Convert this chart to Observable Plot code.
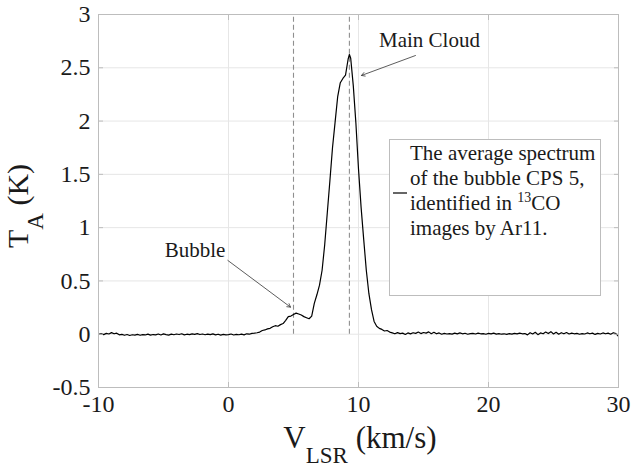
<!DOCTYPE html>
<html><head><meta charset="utf-8">
<script src="https://cdn.jsdelivr.net/npm/d3@7"></script>
<script src="https://cdn.jsdelivr.net/npm/@observablehq/plot@0.6"></script>
<style>body{margin:0;background:#fff} svg{display:block}</style>
</head><body><div id="chart"></div>
<script>
const velocity = [
-10.0,-9.8,-9.6,-9.4,-9.2,-9.0,-8.8,-8.6,-8.4,-8.2,-8.0,-7.8,-7.6,-7.4,-7.2,-7.0,-6.8,-6.6,-6.4,-6.2,
-6.0,-5.8,-5.6,-5.4,-5.2,-5.0,-4.8,-4.6,-4.4,-4.2,-4.0,-3.8,-3.6,-3.4,-3.2,-3.0,-2.8,-2.6,-2.4,-2.2,
-2.0,-1.8,-1.6,-1.4,-1.2,-1.0,-0.8,-0.6,-0.4,-0.2,
0.0,0.2,0.4,0.6,0.8,1.0,1.2,1.4,1.6,1.8,2.0,2.2,2.4,2.6,2.8,3.0,3.2,3.4,3.6,3.8,
4.0,4.2,4.4,4.6,4.8,5.0,5.2,5.4,5.6,5.8,6.0,6.2,6.4,6.6,6.8,7.0,7.2,7.4,7.6,7.8,
8.0,8.2,8.4,8.6,8.8,9.0,9.2,9.3,9.4,9.6,9.8,10.0,10.2,10.4,10.6,10.8,11.0,11.2,11.4,11.6,
11.8,12.0,12.2,12.4,
12.6,12.8,13.0,13.2,13.4,13.6,13.8,14.0,14.2,14.4,14.6,14.8,15.0,15.2,15.4,15.6,15.8,16.0,16.2,16.4,
16.6,16.8,17.0,17.2,17.4,17.6,17.8,18.0,18.2,18.4,18.6,18.8,19.0,19.2,19.4,19.6,19.8,20.0,20.2,20.4,
20.6,20.8,21.0,21.2,21.4,21.6,21.8,22.0,22.2,22.4,22.6,22.8,23.0,23.2,23.4,23.6,23.8,24.0,24.2,24.4,
24.6,24.8,25.0,25.2,25.4,25.6,25.8,26.0,26.2,26.4,26.6,26.8,27.0,27.2,27.4,27.6,27.8,28.0,28.2,28.4,
28.6,28.8,29.0,29.2,29.4,29.6,29.8,30.0
];
const temperature = [
0.000,0.005,-0.004,0.008,0.002,0.015,0.004,0.010,-0.006,-0.002,-0.010,-0.003,-0.012,-0.005,-0.008,-0.002,-0.010,-0.004,-0.007,0.001,
-0.009,-0.003,-0.006,0.002,-0.007,0.003,-0.004,-0.008,0.001,-0.005,0.002,-0.003,0.004,-0.006,0.000,-0.004,0.003,-0.002,0.005,-0.003,
0.002,-0.005,0.001,-0.004,0.003,-0.006,0.000,-0.008,-0.002,-0.006,
-0.004,0.002,-0.007,-0.001,-0.005,0.001,-0.006,0.004,0.000,0.008,0.010,0.014,0.020,0.035,0.040,0.050,0.055,0.070,0.080,0.075,
0.090,0.100,0.130,0.165,0.170,0.185,0.198,0.190,0.180,0.165,0.155,0.145,0.170,0.290,0.370,0.460,0.600,0.840,1.140,1.440,
1.750,1.990,2.230,2.360,2.400,2.430,2.580,2.625,2.590,2.330,1.980,1.550,1.190,0.890,0.600,0.380,0.230,0.120,0.075,0.055,
0.045,0.030,0.035,0.020,
0.012,0.004,0.015,0.006,0.010,-0.002,0.012,0.003,0.014,0.008,0.020,0.006,0.016,0.010,0.022,0.005,0.018,0.004,0.012,0.000,
0.008,0.002,0.006,0.001,0.010,0.003,0.012,0.004,0.009,0.000,0.006,0.008,0.002,0.010,0.004,0.006,0.000,0.008,0.003,0.010,
0.001,0.006,0.000,0.004,-0.002,0.006,0.001,0.008,0.003,0.010,0.004,0.006,-0.006,0.014,0.002,0.018,-0.004,0.012,0.004,0.020,
0.006,0.024,0.002,0.018,0.000,0.014,0.004,0.016,0.002,0.010,0.004,0.008,0.000,0.006,0.002,0.012,0.004,0.010,-0.002,0.008,
0.002,0.012,0.004,0.010,0.000,0.014,0.006,-0.020
];
const xTicks = [-10, 0, 10, 20, 30];
const yTicks = [-0.5, 0, 0.5, 1, 1.5, 2, 2.5, 3];
const markerVelocities = [5.0, 9.3];
const annotations = [
  {label: "Main Cloud", tx: 15.46, ty: 2.756, x1: 14.38, y1: 2.615, x2: 10.23, y2: 2.428},
  {label: "Bubble", tx: -2.58, ty: 0.786, x1: -0.05, y1: 0.692, x2: 4.77, y2: 0.254}
];

const data = velocity.map((v, i) => ({v, t: temperature[i]}));
const font = "'Liberation Serif', 'Times New Roman', serif";
const textColor = "#1a1a1a";
const boxColor = "#bdbdbd";

const chart = Plot.plot({
  width: 634, height: 470,
  marginTop: 14, marginLeft: 98, marginRight: 16, marginBottom: 83,
  style: {fontFamily: font, background: "#fff", overflow: "visible"},
  x: {domain: [-10, 30]},
  y: {domain: [-0.5, 3]},
  marks: [
    Plot.gridX(xTicks, {stroke: "#e6e6e6", strokeOpacity: 1}),
    Plot.gridY(yTicks, {stroke: "#e6e6e6", strokeOpacity: 1}),
    Plot.ruleX(markerVelocities, {y1: 0, y2: 3, stroke: "#8f8f8f", strokeDasharray: "5,3", strokeWidth: 1.1}),
    Plot.line(data, {x: "v", y: "t", stroke: "#000", strokeWidth: 1.2}),
    Plot.frame({stroke: boxColor}),
    Plot.axisX(xTicks, {anchor: "bottom", tickSize: -5, tickPadding: 12, fontSize: 24, label: null, stroke: boxColor, fill: textColor, tickFormat: d => String(d)}),
    Plot.axisX(xTicks, {anchor: "top", tickSize: -5, label: null, stroke: boxColor, tickFormat: () => ""}),
    Plot.axisY(yTicks, {anchor: "left", tickSize: -5, tickPadding: 13, fontSize: 24, label: null, stroke: boxColor, fill: textColor, tickFormat: d => String(d)}),
    Plot.axisY(yTicks, {anchor: "right", tickSize: -5, label: null, stroke: boxColor, tickFormat: () => ""}),
    Plot.arrow(annotations, {x1: "x1", y1: "y1", x2: "x2", y2: "y2", stroke: "#333", strokeWidth: 0.8, headLength: 7}),
    Plot.text(annotations, {x: "tx", y: "ty", text: "label", fontSize: 21, fill: textColor})
  ]
});
document.getElementById("chart").appendChild(chart);

const svg = d3.select(chart);
// x label
const xl = svg.append("text").attr("x", 360).attr("y", 448).attr("text-anchor", "middle")
  .attr("font-family", font).attr("font-size", 31).attr("fill", textColor);
xl.append("tspan").text("V");
xl.append("tspan").attr("font-size", 23).attr("dy", 15).text("LSR");
xl.append("tspan").attr("dy", -15).text(" (km/s)");
// y label
const yl = svg.append("text").attr("transform", "translate(28,206) rotate(-90)").attr("text-anchor", "middle")
  .attr("font-family", font).attr("font-size", 30).attr("fill", textColor);
yl.append("tspan").text("T");
yl.append("tspan").attr("font-size", 23).attr("dy", 15).text("A");
yl.append("tspan").attr("dy", -15).text(" (K)");
// legend
const lg = svg.append("g").attr("text-anchor", "start");
lg.append("rect").attr("x", 389.5).attr("y", 139.5).attr("width", 211).attr("height", 156)
  .attr("fill", "#fff").attr("stroke", boxColor);
lg.append("line").attr("x1", 393).attr("x2", 407).attr("y1", 193).attr("y2", 193).attr("stroke", "#000").attr("stroke-width", 1.2);
const legendText = [
  ["The average spectrum"],
  ["of the bubble CPS 5,"],
  ["identified in ", "13", "CO"],
  ["images by Ar11."]
];
legendText.forEach((parts, i) => {
  const t = lg.append("text").attr("x", 410).attr("y", 160 + i * 25).attr("text-anchor", "start")
    .attr("font-family", font).attr("font-size", 21).attr("fill", textColor);
  if (parts.length === 1) t.text(parts[0]);
  else {
    t.append("tspan").text(parts[0]);
    t.append("tspan").attr("font-size", 14).attr("dy", -8).text(parts[1]);
    t.append("tspan").attr("dy", 8).text(parts[2]);
  }
});
</script>
</body></html>
